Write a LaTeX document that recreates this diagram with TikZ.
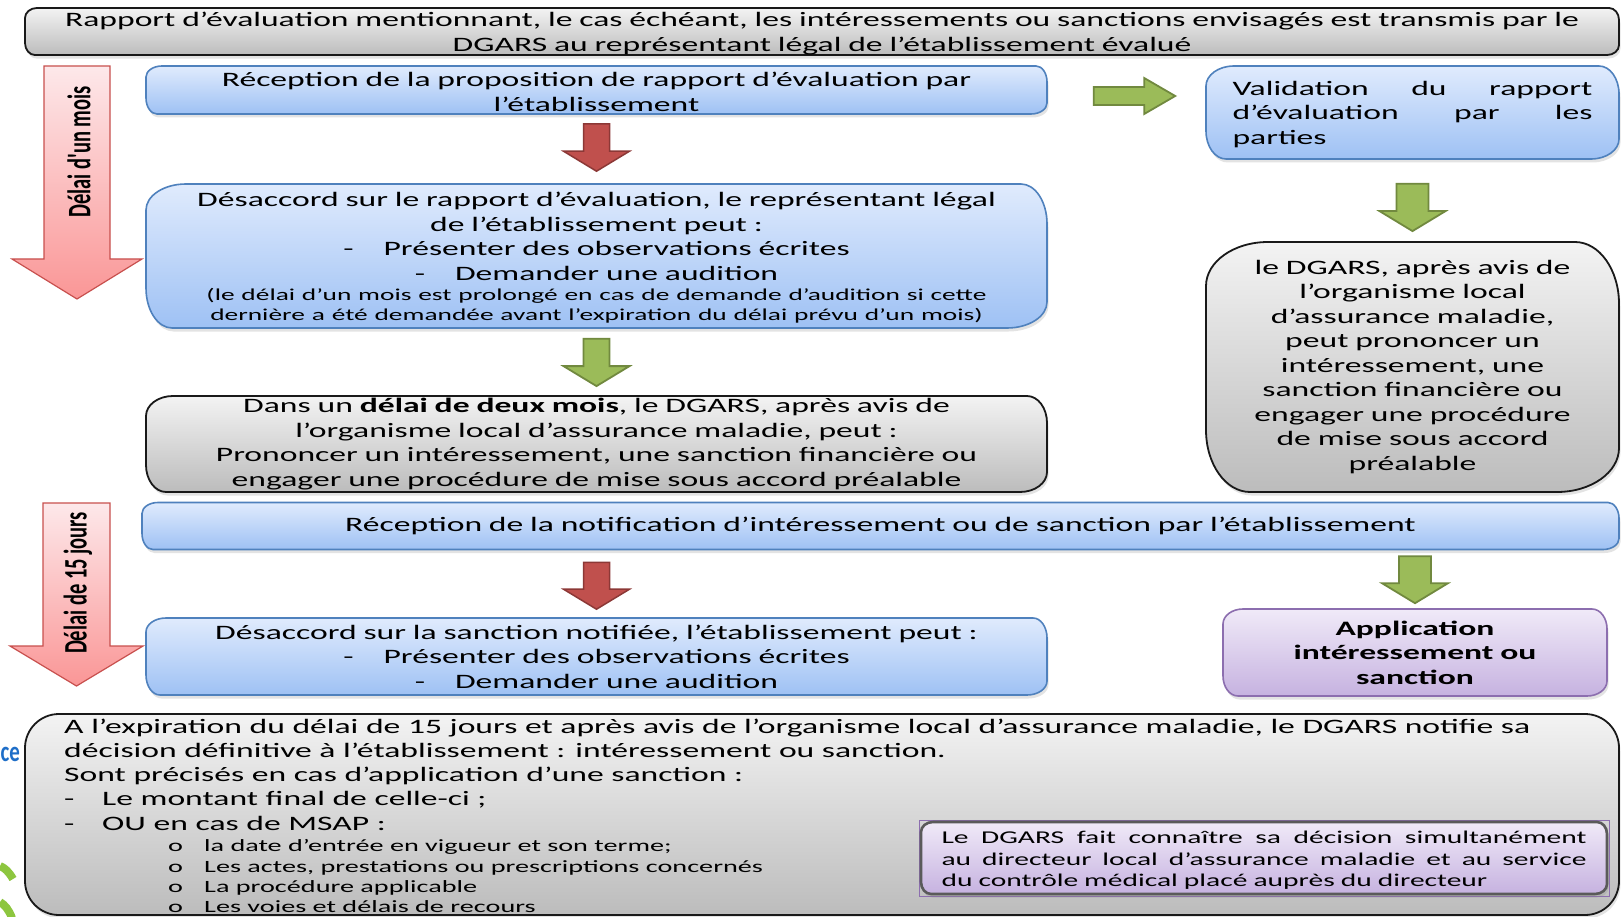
\documentclass[tikz,border=0pt]{standalone}
\usepackage{fontspec}
\setmainfont{Carlito}[FakeStretch=1.64]
\newfontfamily\plainfont{Carlito}
\usepackage{graphicx}
\usetikzlibrary{calc,shadows}

\definecolor{blueTop}{RGB}{224,235,253}
\definecolor{blueBot}{RGB}{158,193,244}
\definecolor{blueBorder}{RGB}{79,129,189}
\definecolor{grayTop}{RGB}{243,243,243}
\definecolor{grayBot}{RGB}{188,188,188}
\definecolor{grayBorder}{RGB}{25,25,25}
\definecolor{purpTop}{RGB}{240,234,248}
\definecolor{purpBot}{RGB}{198,178,224}
\definecolor{purpBorder}{RGB}{140,110,175}
\definecolor{pinkTop}{RGB}{253,232,234}
\definecolor{pinkBot}{RGB}{250,150,150}
\definecolor{pinkBorder}{RGB}{200,80,78}
\definecolor{redFill}{RGB}{192,80,77}
\definecolor{redBorder}{RGB}{140,56,54}
\definecolor{greenFill}{RGB}{155,187,89}
\definecolor{greenBorder}{RGB}{113,137,63}
\definecolor{ceBlue}{RGB}{30,110,200}
\definecolor{logoGreen}{RGB}{141,198,63}
\definecolor{innerBorder}{RGB}{90,90,90}

\tikzset{
  ec/.code 2 args={\pgfsetcornersarced{\pgfpoint{#1}{#2}}},
  box/.style={inner sep=0pt, align=center, font=\fontsize{20.5}{24.5}\selectfont},
  shad/.style={drop shadow={opacity=0.22, shadow xshift=1.5pt, shadow yshift=-3.5pt}},
  bluebox/.style={box, shad, draw=blueBorder, line width=1.6pt, top color=blueTop, bottom color=blueBot},
  graybox/.style={box, shad, draw=grayBorder, line width=1.8pt, top color=grayTop, bottom color=grayBot},
  purpbox/.style={box, shad, draw=purpBorder, line width=1.6pt, top color=purpTop, bottom color=purpBot},
  pinkarrow/.style={draw=pinkBorder, line width=1.2pt, top color=pinkTop, bottom color=pinkBot},
  redarrow/.style={draw=redBorder, line width=1.5pt, fill=redFill},
  greenarrow/.style={draw=greenBorder, line width=1.8pt, fill=greenFill},
  vlabel/.style={rotate=90, inner sep=0pt, font=\plainfont\bfseries\fontsize{20.5}{21}\selectfont},
}

% justified line of given width
\newcommand\jline[2]{\makebox[#1][s]{\spaceskip=0pt\xspaceskip=0pt\relax #2}}

% block arrow pointing down: style, from node, to node, gap below from node, gap above to node, shaft half width
\newcommand\blkdown[6]{%
  \path ($(#3.north)+(0,-#5)$) coordinate (p) ($(p |- #2.south)+(0,#4)$) coordinate (t);
  \draw[#1] ($(t)+(-#6,0)$) -- ($(t)+(#6,0)$) -- ($(p)+(#6,-20)$) -- ($(p)+(33,-20)$) -- (p)
    -- ($(p)+(-33,-20)$) -- ($(p)+(-#6,-20)$) -- cycle;
}

\begin{document}
\begin{tikzpicture}[x=1pt,y=-1pt]
\fill[white,use as bounding box] (0,0) rectangle (1621,917);

% background logo fragments
\node[anchor=east, inner sep=0pt, text=ceBlue, font=\plainfont\bfseries\fontsize{29}{29}\selectfont] (ce) at (20,754) {\scalebox{0.72}[1]{ce}};
\draw[logoGreen, line width=8pt] (0,866) .. controls (5,868) and (9,872) .. (13,879);
\draw[logoGreen, line width=8pt] (0,902) .. controls (5,905) and (9,910) .. (12,918);

% boxes
\node[graybox, ec={12pt}{10pt}, minimum width=1594pt, minimum height=47pt, text width=1585pt] (top) at (822,31.5)
  {\rule{0pt}{19pt}Rapport d’évaluation mentionnant, le cas échéant, les intéressements ou sanctions envisagés est transmis par le\\DGARS au représentant légal de l’établissement évalué};

\node[bluebox, ec={16pt}{11pt}, minimum width=901pt, minimum height=48pt, text width=880pt] (b2) at (596.5,90)
  {\rule{0pt}{18pt}Réception de la proposition de rapport d’évaluation par\\l’établissement};

\node[bluebox, ec={40pt}{26pt}, minimum width=901pt, minimum height=144pt, text width=880pt] (b3) at (596.5,256)
  {\rule{0pt}{18pt}Désaccord sur le rapport d’évaluation, le représentant légal\\de l’établissement peut :\\
   -\hspace{30pt}Présenter des observations écrites\\
   -\hspace{30pt}Demander une audition\par
   {\fontsize{16.7}{20}\selectfont (le délai d’un mois est prolongé en cas de demande d’audition si cette\\dernière a été demandée avant l’expiration du délai prévu d’un mois)\par}};

\node[graybox, ec={27pt}{20pt}, minimum width=901pt, minimum height=96pt, text width=880pt] (b6) at (596.5,444)
  {Dans un \textbf{délai de deux mois}, le DGARS, après avis de\\l’organisme local d’assurance maladie, peut :\\Prononcer un intéressement, une sanction financière ou\\engager une procédure de mise sous accord préalable};

\node[bluebox, ec={16pt}{11pt}, minimum width=1477pt, minimum height=47pt, text width=1460pt] (b7) at (880.5,526)
  {Réception de la notification d’intéressement ou de sanction par l’établissement};

\node[bluebox, ec={20pt}{14pt}, minimum width=901pt, minimum height=77pt, text width=880pt] (b10) at (596.5,656.5)
  {Désaccord sur la sanction notifiée, l’établissement peut :\\
   -\hspace{30pt}Présenter des observations écrites\\
   -\hspace{30pt}Demander une audition};

\node[bluebox, ec={28pt}{20pt}, minimum width=413pt, minimum height=93pt, text width=360pt, align=left] (val) at (1412.5,112.5)
  {\rule{0pt}{18pt}\jline{360pt}{Validation du rapport}\\\jline{360pt}{d’évaluation par les}\\parties};

\node[graybox, ec={62pt}{44pt}, minimum width=413pt, minimum height=250pt, text width=405pt] (rg) at (1412.5,367)
  {le DGARS, après avis de\\l’organisme local\\d’assurance maladie,\\peut prononcer un\\intéressement, une\\sanction financière ou\\engager une procédure\\de mise sous accord\\préalable};

\node[purpbox, ec={20pt}{15pt}, minimum width=384pt, minimum height=87pt, text width=375pt, font=\fontsize{20.5}{24.5}\selectfont\bfseries] (app) at (1415,652.5)
  {Application\\intéressement ou\\sanction};

\node[graybox, ec={34pt}{34pt}, minimum width=1594pt, minimum height=201pt] (bot) at (822,814.5) {};

\node[anchor=base west, inner sep=0pt] (bottxt) at (64,733)
  {\begin{minipage}[t]{1540pt}\setlength\parindent{0pt}\fontsize{20.5}{24.3}\selectfont
   A l’expiration du délai de 15 jours et après avis de l’organisme local d’assurance maladie, le DGARS notifie sa\par
   décision définitive à l’établissement : intéressement ou sanction.\par
   Sont précisés en cas d’application d’une sanction :\par
   \makebox[38pt][l]{-}Le montant final de celle-ci ;\par
   \makebox[38pt][l]{-}OU en cas de MSAP :\par
   \vspace{1.5pt}
   {\fontsize{17.2}{20.2}\selectfont
   \hspace*{104pt}\makebox[36pt][l]{o}la date d’entrée en vigueur et son terme;\par
   \hspace*{104pt}\makebox[36pt][l]{o}Les actes, prestations ou prescriptions concernés\par
   \hspace*{104pt}\makebox[36pt][l]{o}La procédure applicable\par
   \hspace*{104pt}\makebox[36pt][l]{o}Les voies et délais de recours\par}
   \end{minipage}};

\node[inner sep=0pt, draw=purpBorder, line width=0.8pt, minimum width=690pt, minimum height=76pt] (innerframe) at (1264,858) {};
\node[box, shad, ec={12pt}{10pt}, draw=innerBorder, line width=2.6pt, top color=purpTop, bottom color=purpBot,
      minimum width=686pt, minimum height=72pt, text width=645pt, align=left, font=\fontsize{18}{21.8}\selectfont] (inner) at (1264,858)
  {\rule{0pt}{17pt}\jline{645pt}{Le DGARS fait connaître sa décision simultanément}\\\jline{645pt}{au directeur local d’assurance maladie et au service}\\du contrôle médical placé auprès du directeur};

% big left arrows
\draw[pinkarrow] (44,66) -- (110,66) -- (110,259) -- (142,259) -- (77,299) -- (12,259) -- (44,259) -- cycle;
\node[vlabel] (l1) at (79,152) {\scalebox{1}[1.6]{Délai d'un mois}};
\draw[pinkarrow] (43,503) -- (110,503) -- (110,646) -- (143,646) -- (76.5,686) -- (10,646) -- (43,646) -- cycle;
\node[vlabel] (l2) at (78,583) {\scalebox{1}[1.6]{Délai de 15 jours}};

% connectors (block arrows)
\blkdown{redarrow}{b2}{b3}{9}{12}{13}
\blkdown{greenarrow}{b3}{b6}{10}{9}{13}
\blkdown{redarrow}{b7}{b10}{12}{8}{13}
\blkdown{greenarrow}{val}{rg}{24}{10}{16}
\blkdown{greenarrow}{b7}{app}{6}{5}{16}

\path ($(b2.east)+(46,6)$) coordinate (s) ($(val.west |- s)+(-30,0)$) coordinate (q);
\draw[greenarrow] ($(s)+(0,-9)$) -- ($(q)+(-31,-9)$) -- ($(q)+(-31,-18)$) -- (q) -- ($(q)+(-31,18)$) -- ($(q)+(-31,9)$) -- ($(s)+(0,9)$) -- cycle;
\end{tikzpicture}
\end{document}
